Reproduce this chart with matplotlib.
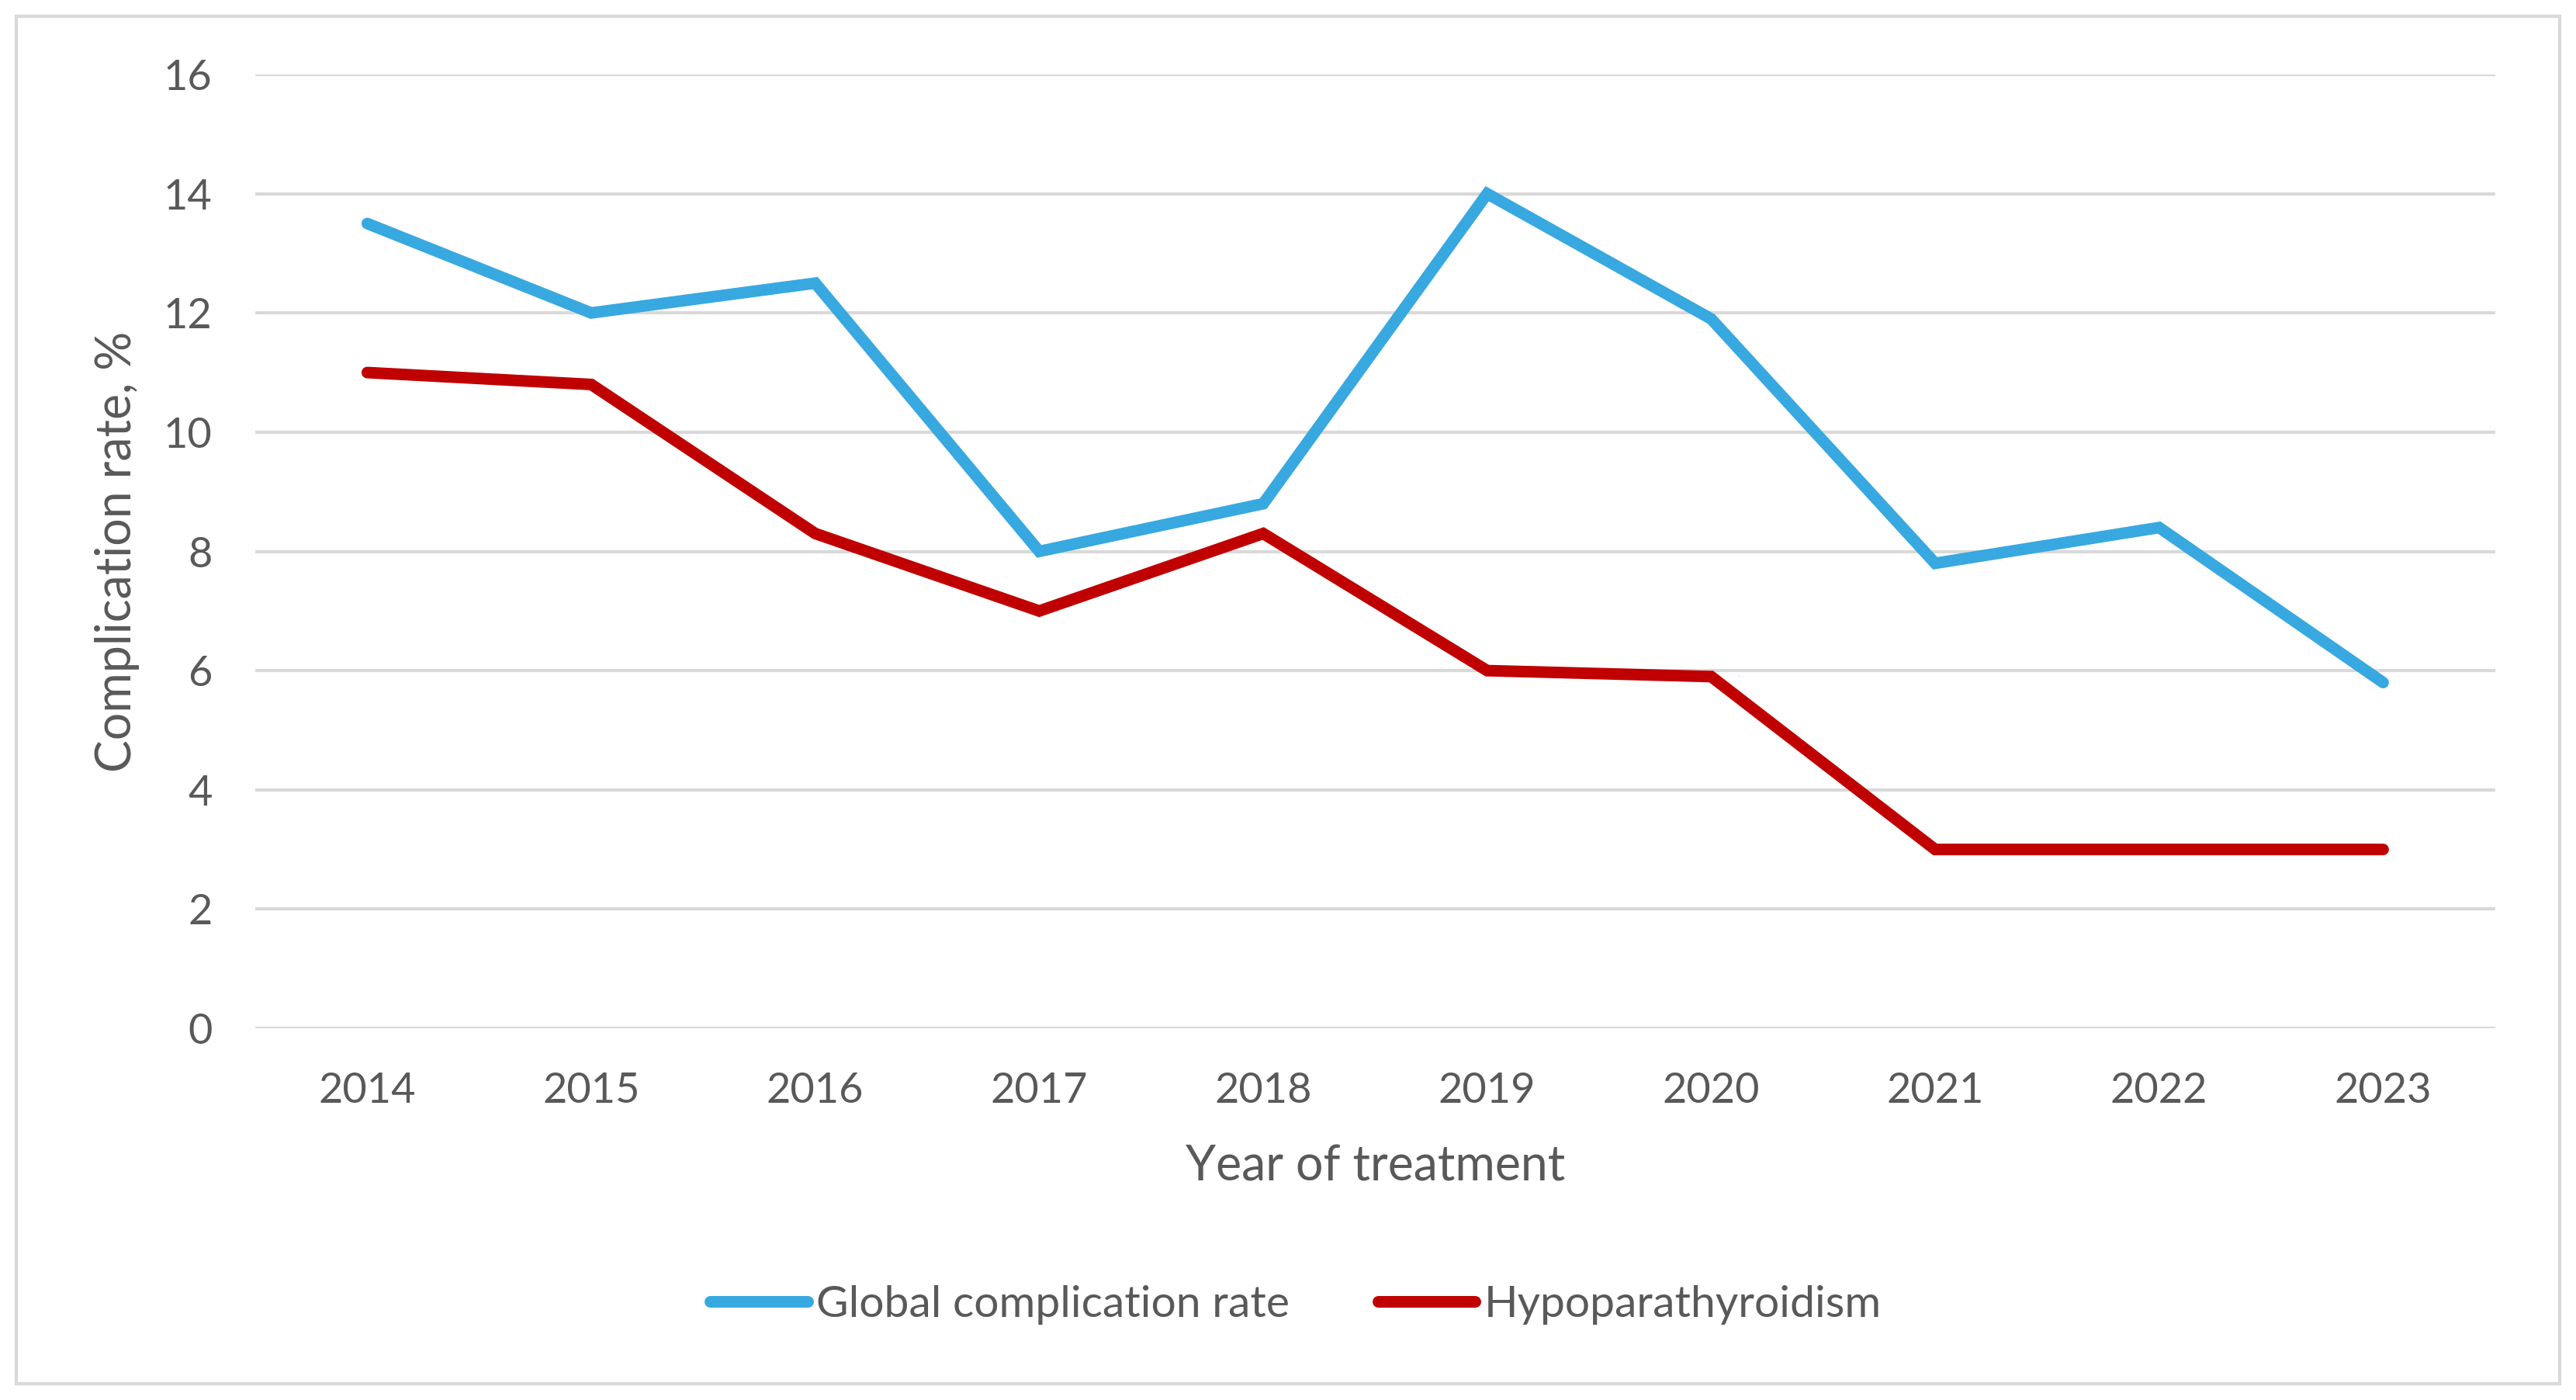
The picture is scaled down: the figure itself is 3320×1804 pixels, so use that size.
import matplotlib
matplotlib.use("Agg")
import matplotlib.pyplot as plt
from matplotlib.patches import Rectangle

years = ["2014", "2015", "2016", "2017", "2018", "2019", "2020", "2021", "2022", "2023"]
global_rate = [13.5, 12.0, 12.5, 8.0, 8.8, 14.0, 11.9, 7.8, 8.4, 5.8]
hypopara = [11.0, 10.8, 8.3, 7.0, 8.3, 6.0, 5.9, 3.0, 3.0, 3.0]
y_ticks = [0, 2, 4, 6, 8, 10, 12, 14, 16]

text_col = "#595959"
grid_col = "#D9D9D9"

plt.rcParams["font.family"] = ["Lato", "DejaVu Sans"]

fig = plt.figure(figsize=(16.6, 9.02), dpi=200)
ax = fig.add_axes([0.0991, 0.2655, 0.8695, 0.6813])

x = list(range(len(years)))
ax.plot(x, global_rate, color="#38A8E0", lw=5.4, solid_capstyle="round",
        solid_joinstyle="miter", label="Global complication rate", zorder=3)
ax.plot(x, hypopara, color="#C00000", lw=5.4, solid_capstyle="round",
        solid_joinstyle="miter", label="Hypoparathyroidism", zorder=3)

ax.set_xlim(-0.5, len(years) - 0.5)
ax.set_ylim(0, 16)
ax.set_xticks(x)
ax.set_xticklabels(years)
ax.set_yticks(y_ticks)
ax.yaxis.grid(True, color=grid_col, lw=1.5)
ax.set_axisbelow(True)
for s in ax.spines.values():
    s.set_visible(False)
ax.tick_params(length=0, labelsize=19.5, colors=text_col)
ax.tick_params(axis="y", pad=20)
ax.tick_params(axis="x", pad=20)

ax.set_xlabel("Year of treatment", fontsize=22.5, color=text_col, labelpad=16)
ax.set_ylabel("Complication rate, %", fontsize=22.5, color=text_col, labelpad=11)

fig.legend(loc="center", bbox_to_anchor=(0.503, 0.068), ncol=2, frameon=False,
           fontsize=20.5, labelcolor=text_col, handlelength=2.2, handletextpad=0.2,
           columnspacing=2.0)

# chart area border
fig.patches.append(Rectangle((0.0063, 0.0116), 0.9874, 0.9768, transform=fig.transFigure,
                             fill=False, edgecolor=grid_col, lw=1.5))

fig.savefig("out.png", dpi=200)
